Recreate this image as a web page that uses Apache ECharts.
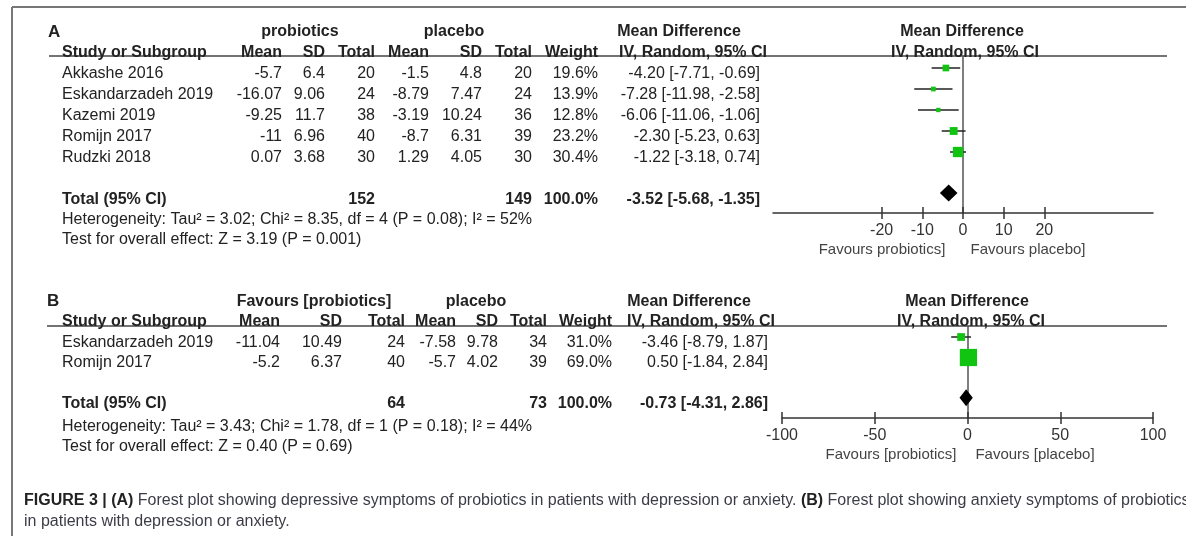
<!DOCTYPE html>
<html>
<head>
<meta charset="utf-8">
<script src="https://cdn.jsdelivr.net/npm/echarts@6/dist/echarts.min.js"></script>
<style>
html, body {margin: 0; padding: 0; background: #fff;}
#chart {width: 1186px; height: 536px;}
</style>
</head>
<body>
<div id="chart"></div>
<script>
// panel A : depressive symptoms
var studiesA = ['Akkashe 2016', 'Eskandarzadeh 2019', 'Kazemi 2019', 'Romijn 2017', 'Rudzki 2018'];
var probMeanA = [-5.7, -16.07, -9.25, -11, 0.07];
var probSdA = [6.4, 9.06, 11.7, 6.96, 3.68];
var probNA = [20, 24, 38, 40, 30];
var placMeanA = [-1.5, -8.79, -3.19, -8.7, 1.29];
var placSdA = [4.8, 7.47, 10.24, 6.31, 4.05];
var placNA = [20, 24, 36, 39, 30];
var weightA = [19.6, 13.9, 12.8, 23.2, 30.4];
var mdA = [-4.20, -7.28, -6.06, -2.30, -1.22];
var loA = [-7.71, -11.98, -11.06, -5.23, -3.18];
var hiA = [-0.69, -2.58, -1.06, 0.63, 0.74];
var totalA = [-3.52, -5.68, -1.35];
var totalNA = [152, 149];
var hetA = 'Heterogeneity: Tau² = 3.02; Chi² = 8.35, df = 4 (P = 0.08); I² = 52%';
var testA = 'Test for overall effect: Z = 3.19 (P = 0.001)';
var ticksA = [-20, -10, 0, 10, 20];

// panel B : anxiety symptoms
var studiesB = ['Eskandarzadeh 2019', 'Romijn 2017'];
var probMeanB = [-11.04, -5.2];
var probSdB = [10.49, 6.37];
var probNB = [24, 40];
var placMeanB = [-7.58, -5.7];
var placSdB = [9.78, 4.02];
var placNB = [34, 39];
var weightB = [31.0, 69.0];
var mdB = [-3.46, 0.50];
var loB = [-8.79, -1.84];
var hiB = [1.87, 2.84];
var totalB = [-0.73, -4.31, 2.86];
var totalNB = [64, 73];
var hetB = 'Heterogeneity: Tau² = 3.43; Chi² = 1.78, df = 1 (P = 0.18); I² = 44%';
var testB = 'Test for overall effect: Z = 0.40 (P = 0.69)';
var ticksB = [-100, -50, 0, 50, 100];

var FONT = '"Liberation Sans", Arial, sans-serif';
var INK = '#222';

function ci(m, l, h) {
    return m.toFixed(2) + ' [' + l.toFixed(2) + ', ' + h.toFixed(2) + ']';
}

// column x positions (right edges) for each panel
var colsA = {study: 62, m1: 282, s1: 325, n1: 375, m2: 429, s2: 482, n2: 532, w: 598, ci: 760};
var colsB = {study: 62, m1: 280, s1: 342, n1: 405, m2: 456, s2: 498, n2: 547, w: 612, ci: 768};

function buildRows(c, studies, pm, ps, pn, cm, cs, cn, w, md, lo, hi, tot, totN, het, test, hdr, rowTot, rowHet, rowTest) {
    var rows = [];
    rows.push({row: -2, cells: hdr});
    rows.push({row: -1, cells: [
        {t: 'Study or Subgroup', x: c.study, a: 'left', b: 1},
        {t: 'Mean', x: c.m1, a: 'right', b: 1},
        {t: 'SD', x: c.s1, a: 'right', b: 1},
        {t: 'Total', x: c.n1, a: 'right', b: 1},
        {t: 'Mean', x: c.m2, a: 'right', b: 1},
        {t: 'SD', x: c.s2, a: 'right', b: 1},
        {t: 'Total', x: c.n2, a: 'right', b: 1},
        {t: 'Weight', x: c.w, a: 'right', b: 1},
        {t: 'IV, Random, 95% CI', x: c.ci + 7, a: 'right', b: 1}
    ]});
    studies.forEach(function (s, i) {
        rows.push({row: i, cells: [
            {t: s, x: c.study, a: 'left'},
            {t: String(pm[i]), x: c.m1, a: 'right'},
            {t: String(ps[i]), x: c.s1, a: 'right'},
            {t: String(pn[i]), x: c.n1, a: 'right'},
            {t: String(cm[i]), x: c.m2, a: 'right'},
            {t: String(cs[i]), x: c.s2, a: 'right'},
            {t: String(cn[i]), x: c.n2, a: 'right'},
            {t: w[i].toFixed(1) + '%', x: c.w, a: 'right'},
            {t: ci(md[i], lo[i], hi[i]), x: c.ci, a: 'right'}
        ]});
    });
    rows.push({row: rowTot, cells: [
        {t: 'Total (95% CI)', x: c.study, a: 'left', b: 1},
        {t: String(totN[0]), x: c.n1, a: 'right', b: 1},
        {t: String(totN[1]), x: c.n2, a: 'right', b: 1},
        {t: '100.0%', x: c.w, a: 'right', b: 1},
        {t: ci(tot[0], tot[1], tot[2]), x: c.ci, a: 'right', b: 1}
    ]});
    rows.push({row: rowHet, cells: [{t: het, x: c.study, a: 'left'}]});
    rows.push({row: rowTest, cells: [{t: test, x: c.study, a: 'left'}]});
    return rows;
}

var rowsA = buildRows(colsA, studiesA, probMeanA, probSdA, probNA, placMeanA, placSdA, placNA,
    weightA, mdA, loA, hiA, totalA, totalNA, hetA, testA, [
        {t: 'A', x: 48, a: 'left', b: 1, s: 17},
        {t: 'probiotics', x: 300, a: 'center', b: 1},
        {t: 'placebo', x: 454, a: 'center', b: 1},
        {t: 'Mean Difference', x: 679, a: 'center', b: 1}
    ], 6, 6.95, 7.9);
rowsA[1].cells.push({t: 'Mean Difference', x: 962, a: 'center', b: 1, r: -1});
rowsA[1].cells.push({t: 'IV, Random, 95% CI', x: 965, a: 'center', b: 1});

var rowsB = buildRows(colsB, studiesB, probMeanB, probSdB, probNB, placMeanB, placSdB, placNB,
    weightB, mdB, loB, hiB, totalB, totalNB, hetB, testB, [
        {t: 'B', x: 47, a: 'left', b: 1, s: 17},
        {t: 'Favours [probiotics]', x: 314, a: 'center', b: 1},
        {t: 'placebo', x: 476, a: 'center', b: 1},
        {t: 'Mean Difference', x: 689, a: 'center', b: 1}
    ], 3, 4.1, 5.07);
rowsB[1].cells.push({t: 'Mean Difference', x: 967, a: 'center', b: 1, r: -1});
rowsB[1].cells.push({t: 'IV, Random, 95% CI', x: 971, a: 'center', b: 1});

function tableSeries(xIdx, yIdx, rows, offset) {
    return {
        type: 'custom',
        xAxisIndex: xIdx,
        yAxisIndex: yIdx,
        clip: false,
        silent: true,
        z: 5,
        data: rows.map(function (r) { return [0, r.row]; }),
        renderItem: function (params, api) {
            var row = rows[params.dataIndex];
            var base = api.value(1);
            return {
                type: 'group',
                children: row.cells.map(function (c) {
                    var y = api.coord([0, base + (c.r || 0)])[1] + offset;
                    return {
                        type: 'text',
                        style: {
                            text: c.t, x: c.x, y: y,
                            align: c.a, textAlign: c.a,
                            verticalAlign: 'middle', textVerticalAlign: 'middle',
                            fill: INK,
                            font: (c.b ? 'bold ' : '') + (c.s || 16) + 'px ' + FONT
                        }
                    };
                })
            };
        }
    };
}

function forestData(md, lo, hi, w, tot, totRow) {
    var d = md.map(function (m, i) { return [m, lo[i], hi[i], i, w[i], 0]; });
    d.push([tot[0], tot[1], tot[2], totRow, 100, 1]);
    return d;
}

function forestSeries(xIdx, yIdx, data, k) {
    return {
        type: 'custom',
        xAxisIndex: xIdx,
        yAxisIndex: yIdx,
        clip: false,
        silent: true,
        z: 6,
        data: data,
        renderItem: function (params, api) {
            var row = api.value(3);
            var c = api.coord([api.value(0), row]);
            var l = api.coord([api.value(1), row]);
            var h = api.coord([api.value(2), row]);
            if (api.value(5) === 1) {
                return {
                    type: 'polygon',
                    shape: {points: [[l[0], c[1]], [c[0], c[1] - 8.5], [h[0], c[1]], [c[0], c[1] + 8.5]]},
                    style: {fill: '#000'}
                };
            }
            var s = api.value(4) * k;
            return {
                type: 'group',
                children: [
                    {type: 'line', shape: {x1: l[0], y1: c[1], x2: h[0], y2: c[1]},
                        style: {stroke: INK, lineWidth: 1.5}},
                    {type: 'rect', shape: {x: c[0] - s / 2, y: c[1] - s / 2, width: s, height: s},
                        style: {fill: '#12c412'}}
                ]
            };
        }
    };
}

function mainX(grid, min, max, ticks) {
    return {
        type: 'value', gridIndex: grid, min: min, max: max, position: 'bottom',
        splitLine: {show: false},
        axisLine: {onZero: false, lineStyle: {color: '#333', width: 1.5}},
        axisTick: {length: 6, lineStyle: {color: '#333', width: 1.5}, customValues: ticks},
        axisLabel: {customValues: ticks, margin: 10, color: '#333', fontSize: 16, fontFamily: FONT}
    };
}
function innerX(grid, min, max, ticks) {
    return {
        type: 'value', gridIndex: grid, min: min, max: max, position: 'bottom',
        splitLine: {show: false},
        axisLine: {show: false, onZero: false},
        axisTick: {inside: true, length: 6, lineStyle: {color: '#333', width: 1.5}, customValues: ticks},
        axisLabel: {show: false}
    };
}
function rowY(grid, min, max) {
    return {
        type: 'value', gridIndex: grid, min: min, max: max, inverse: true,
        splitLine: {show: false}, axisTick: {show: false}, axisLabel: {show: false},
        axisLine: {onZero: true, lineStyle: {color: '#555', width: 1.5}}
    };
}

function label(text, x, y) {
    return {type: 'text', style: {text: text, x: x, y: y, align: 'center', textAlign: 'center',
        verticalAlign: 'middle', textVerticalAlign: 'middle', fill: '#444', font: '15px ' + FONT}};
}

var chart = echarts.init(document.getElementById('chart'));
chart.setOption({
    animation: false,
    backgroundColor: '#fff',
    grid: [
        {left: 773, width: 380, top: 56, height: 157, containLabel: false, outerBoundsMode: 'none'},
        {left: 782, width: 371, top: 326, height: 92, containLabel: false, outerBoundsMode: 'none'}
    ],
    xAxis: [
        mainX(0, -46.7, 46.7, ticksA),
        innerX(0, -46.7, 46.7, ticksA),
        mainX(1, -100, 100, ticksB),
        innerX(1, -100, 100, ticksB)
    ],
    yAxis: [
        rowY(0, -12 / 21, 145 / 21),
        rowY(1, -11 / 20.5, 81 / 20.5)
    ],
    series: [
        tableSeries(0, 0, rowsA, 6),
        tableSeries(2, 1, rowsB, 5.5),
        forestSeries(0, 0, forestData(mdA, loA, hiA, weightA, totalA, 5.95), 0.34),
        forestSeries(2, 1, forestData(mdB, loB, hiB, weightB, totalB, 2.96), 0.25)
    ],
    graphic: [
        // frame
        {type: 'line', shape: {x1: 12, y1: 7, x2: 1186, y2: 7}, style: {stroke: '#777', lineWidth: 2}},
        {type: 'line', shape: {x1: 12, y1: 7, x2: 12, y2: 536}, style: {stroke: '#777', lineWidth: 2}},
        // header rules
        {type: 'line', shape: {x1: 49, y1: 56, x2: 1167, y2: 56}, style: {stroke: '#444', lineWidth: 1.5}},
        {type: 'line', shape: {x1: 47, y1: 326, x2: 1167, y2: 326}, style: {stroke: '#444', lineWidth: 1.5}},
        // favours labels
        label('Favours probiotics]', 882, 250),
        label('Favours placebo]', 1028, 250),
        label('Favours [probiotics]', 891, 455),
        label('Favours [placebo]', 1035, 455),
        // caption
        {
            type: 'text',
            style: {
                text: '{b|FIGURE 3 | (A)} Forest plot showing depressive symptoms of probiotics in patients with depression or anxiety. {b|(B)} Forest plot showing anxiety symptoms of probiotics\nin patients with depression or anxiety.',
                x: 24, y: 490, fill: '#3c3c48', font: '16px ' + FONT, lineHeight: 21,
                rich: {b: {fontWeight: 'bold', fill: '#222', fontSize: 16, fontFamily: FONT, lineHeight: 21}}
            }
        }
    ]
});
</script>
</body>
</html>
